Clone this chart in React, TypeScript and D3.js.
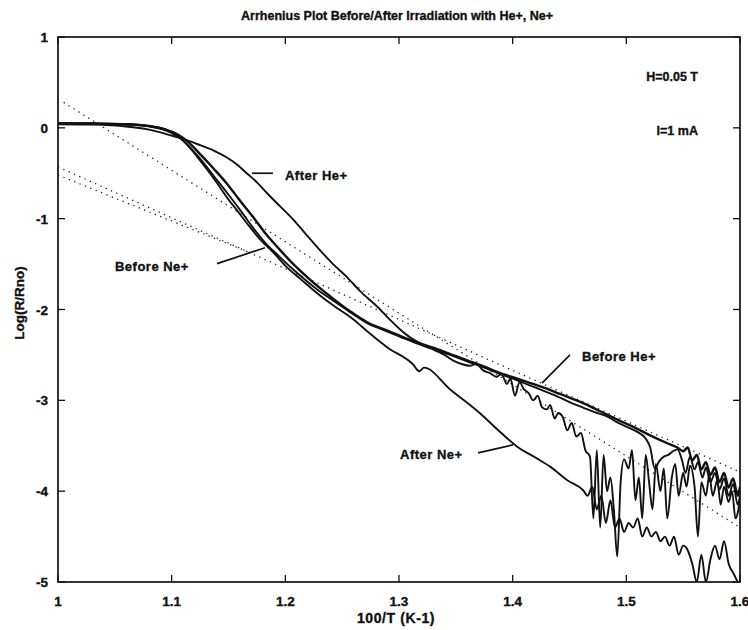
import React from 'react';
import * as d3 from 'd3';

// ---------- data ----------
const xTickValues = [1, 1.1, 1.2, 1.3, 1.4, 1.5, 1.6];
const xTickLabels = ['1', '1.1', '1.2', '1.3', '1.4', '1.5', '1.6'];
const yTickValues = [1, 0, -1, -2, -3, -4, -5];
const yTickLabels = ['1', '0', '-1', '-2', '-3', '-4', '-5'];

const titleText = 'Arrhenius Plot Before/After Irradiation with He+, Ne+';
const xAxisLabel = '100/T (K-1)';
const yAxisLabel = 'Log(R/Rno)';

const afterHe: [number, number][] = [
  [1.0, 0.04], [1.03, 0.035], [1.06, 0.015], [1.08, -0.02], [1.0985, -0.08], [1.112, -0.13],
  [1.125, -0.19], [1.137, -0.25], [1.149, -0.33], [1.158, -0.41], [1.166, -0.5], [1.175, -0.6],
  [1.184, -0.72], [1.195, -0.86], [1.207, -1.01], [1.218, -1.17], [1.23, -1.34], [1.242, -1.5],
  [1.254, -1.64], [1.266, -1.8], [1.281, -1.97], [1.291, -2.1], [1.301, -2.22], [1.31, -2.31],
  [1.32, -2.38], [1.33, -2.43], [1.345, -2.5], [1.36, -2.57], [1.375, -2.64], [1.389, -2.71],
  [1.404, -2.78], [1.418, -2.85], [1.43, -2.91], [1.4415, -2.97], [1.452, -3.03], [1.462, -3.08],
  [1.472, -3.13], [1.482, -3.17], [1.4916, -3.24], [1.5, -3.29], [1.51, -3.35], [1.517, -3.42],
  [1.521, -3.52], [1.525, -3.75], [1.529, -3.67], [1.533, -3.62], [1.537, -3.6], [1.541, -3.56],
  [1.545, -3.54], [1.549, -3.66], [1.552, -3.8], [1.556, -3.62], [1.56, -3.76], [1.563, -3.68],
  [1.567, -3.85], [1.57, -3.74], [1.574, -3.9], [1.578, -3.8], [1.582, -3.98], [1.586, -3.86],
  [1.59, -4.05], [1.594, -3.92], [1.598, -4.15], [1.6, -4.05],
];

const beforeHe: [number, number][] = [
  [1.0, 0.05], [1.03, 0.047], [1.06, 0.04], [1.08, 0.02], [1.095, -0.02], [1.105, -0.07],
  [1.115, -0.16], [1.125, -0.29], [1.137, -0.45], [1.149, -0.62], [1.16, -0.8], [1.1715, -0.98],
  [1.183, -1.17], [1.195, -1.34], [1.207, -1.5], [1.219, -1.64], [1.23, -1.76], [1.242, -1.88],
  [1.257, -2.02], [1.272, -2.14], [1.287, -2.22], [1.301, -2.29], [1.315, -2.36], [1.33, -2.42],
  [1.345, -2.49], [1.36, -2.56], [1.375, -2.63], [1.389, -2.7], [1.404, -2.76], [1.418, -2.82],
  [1.43, -2.87], [1.4415, -2.93], [1.452, -2.98], [1.462, -3.03], [1.477, -3.12], [1.4916, -3.21],
  [1.5057, -3.29], [1.52, -3.38], [1.5356, -3.47], [1.545, -3.52], [1.55, -3.56], [1.554, -3.52],
  [1.558, -3.66], [1.562, -3.6], [1.566, -3.76], [1.57, -3.68], [1.574, -3.82], [1.578, -3.74],
  [1.582, -3.9], [1.586, -3.8], [1.59, -3.96], [1.594, -3.86], [1.598, -4.05], [1.6, -3.95],
];

const beforeNe: [number, number][] = [
  [1.0, 0.05], [1.03, 0.047], [1.06, 0.04], [1.08, 0.018], [1.095, -0.03], [1.105, -0.09],
  [1.115, -0.2], [1.125, -0.34], [1.137, -0.53], [1.149, -0.72], [1.16, -0.9], [1.171, -1.09],
  [1.182, -1.26], [1.195, -1.42], [1.207, -1.56], [1.219, -1.69], [1.23, -1.8], [1.242, -1.9],
  [1.257, -2.03], [1.272, -2.15], [1.287, -2.23], [1.301, -2.3], [1.315, -2.37], [1.33, -2.44],
  [1.34, -2.5], [1.3474, -2.56], [1.355, -2.6], [1.362, -2.62], [1.368, -2.6], [1.374, -2.67],
  [1.38, -2.7], [1.386, -2.74], [1.39, -2.71], [1.395, -2.82], [1.398, -2.76], [1.402, -2.95],
  [1.406, -2.8], [1.41, -2.88], [1.414, -2.92], [1.418, -3.0], [1.422, -2.95], [1.426, -3.08],
  [1.43, -3.1], [1.433, -3.05], [1.437, -3.2], [1.44, -3.14], [1.444, -3.18], [1.448, -3.33],
  [1.452, -3.25], [1.456, -3.4], [1.46, -3.36], [1.464, -3.55], [1.468, -3.62], [1.471, -4.3],
  [1.474, -3.55], [1.477, -4.4], [1.48, -3.6], [1.483, -4.0], [1.486, -3.85], [1.489, -4.2],
  [1.492, -4.72], [1.495, -3.9], [1.498, -3.65], [1.502, -3.75], [1.505, -3.55], [1.508, -4.1],
  [1.511, -3.85], [1.514, -4.3], [1.517, -3.6], [1.52, -3.9], [1.523, -4.2], [1.526, -3.7],
  [1.53, -4.0], [1.533, -3.75], [1.536, -4.3], [1.54, -3.85], [1.543, -3.7], [1.546, -4.05],
  [1.55, -3.8], [1.553, -3.95], [1.556, -3.72], [1.56, -3.95], [1.563, -4.5], [1.566, -3.9],
  [1.57, -4.05], [1.573, -3.82], [1.576, -4.05], [1.58, -3.88], [1.583, -4.15], [1.586, -3.95],
  [1.59, -4.12], [1.593, -4.0], [1.596, -4.3], [1.6, -4.1],
];

const afterNe: [number, number][] = [
  [1.0, 0.05], [1.04, 0.045], [1.07, 0.03], [1.09, 0.0], [1.1, -0.05], [1.11, -0.14],
  [1.12, -0.28], [1.13, -0.44], [1.14, -0.61], [1.15, -0.79], [1.157, -0.9], [1.168, -1.08],
  [1.178, -1.23], [1.19, -1.38], [1.201, -1.53], [1.213, -1.66], [1.224, -1.78], [1.235, -1.89],
  [1.245, -1.98], [1.26, -2.11], [1.272, -2.24], [1.29, -2.42], [1.312, -2.6], [1.318, -2.68],
  [1.322, -2.64], [1.345, -2.88], [1.371, -3.14], [1.39, -3.36], [1.404, -3.51], [1.42, -3.63],
  [1.433, -3.73], [1.448, -3.88], [1.462, -3.99], [1.466, -4.05], [1.47, -3.95], [1.474, -4.2],
  [1.478, -4.05], [1.482, -4.35], [1.486, -4.1], [1.49, -4.4], [1.494, -4.3], [1.498, -4.45],
  [1.502, -4.35], [1.506, -4.4], [1.51, -4.3], [1.514, -4.5], [1.518, -4.4], [1.522, -4.5],
  [1.526, -4.45], [1.53, -4.55], [1.534, -4.5], [1.538, -4.6], [1.542, -4.5], [1.546, -4.7],
  [1.55, -4.6], [1.554, -4.65], [1.558, -4.8], [1.562, -5.0], [1.566, -4.7], [1.57, -5.0],
  [1.574, -4.75], [1.578, -4.6], [1.582, -4.75], [1.586, -4.55], [1.59, -4.8], [1.594, -4.9],
  [1.598, -5.0],
];

// dotted straight-line fits
const fitA: [number, number][] = [[1.005, 0.28], [1.6, -4.4]];
const fitB: [number, number][] = [[1.0, -0.43], [1.6, -3.79]];
const fitC: [number, number][] = [[1.0, -0.52], [1.17, -1.38]];

const curveNames = ['After He+', 'Before Ne+', 'Before He+', 'After Ne+'];
const curveLabelPos: [number, number][] = [[1.1997, -0.52], [1.0501, -1.53], [1.461, -2.52], [1.3009, -3.6]];
const leaderLines: [number, number][][] = [
  [[1.1707, -0.5], [1.1891, -0.5]],
  [[1.1399, -1.4955], [1.1821, -1.32]],
  [[1.4504, -2.5], [1.4258, -2.81]],
  [[1.3695, -3.578], [1.4003, -3.49]],
];
const conditionTexts = ['H=0.05 T', 'I=1 mA'];
const conditionPos: [number, number][] = [[1.563, 0.56], [1.563, -0.035]];

// ---------- layout ----------
const W = 748;
const H = 630;
const left = 58;
const right = 740;
const top = 37;
const bottom = 582;
const font = '"Liberation Sans", Arial, Helvetica, sans-serif';
const ink = '#111';

export default function App() {
  const x = d3.scaleLinear().domain([1, 1.6]).range([left, right]);
  const y = d3.scaleLinear().domain([-5, 1]).range([bottom, top]);
  const line = d3.line<[number, number]>().x(d => x(d[0])).y(d => y(d[1])).curve(d3.curveMonotoneX);
  const straight = d3.line<[number, number]>().x(d => x(d[0])).y(d => y(d[1]));
  const tickLen = 7;
  const solids = [afterHe, beforeHe, beforeNe, afterNe];
  const dots = [fitA, fitB, fitC];
  const textProps = { fontFamily: font, fontWeight: 'bold' as const, fill: ink, stroke: ink, strokeWidth: 0.35 };

  return (
    <svg width={W} height={H} style={{ position: 'absolute', left: 0, top: 0, background: '#fff' }}>
      <rect x={0} y={0} width={W} height={H} fill="#fff" />
      <defs>
        <clipPath id="plotclip">
          <rect x={left} y={top} width={right - left} height={bottom - top} />
        </clipPath>
      </defs>
      <text x={(left + right) / 2 - 2} y={20} textAnchor="middle" fontSize={12.5} {...textProps}>
        {titleText}
      </text>

      <g clipPath="url(#plotclip)">
        {dots.map((d, i) => (
          <path key={'d' + i} d={straight(d) || ''} fill="none" stroke="#222" strokeWidth={1.3} strokeDasharray="1.3 4.5" />
        ))}
        {solids.map((d, i) => (
          <path key={'s' + i} d={line(d) || ''} fill="none" stroke={ink} strokeWidth={i === 1 ? 2.4 : 1.9} strokeLinejoin="round" />
        ))}
      </g>

      {/* frame */}
      <rect x={left} y={top} width={right - left} height={bottom - top} fill="none" stroke={ink} strokeWidth={1.7} />
      {xTickValues.map((v, i) => (
        <g key={'xt' + i}>
          <line x1={x(v)} x2={x(v)} y1={bottom} y2={bottom - tickLen} stroke={ink} strokeWidth={1.3} />
          <line x1={x(v)} x2={x(v)} y1={top} y2={top + tickLen} stroke={ink} strokeWidth={1.3} />
          <text x={x(v)} y={606} textAnchor="middle" fontSize={13.5} {...textProps}>
            {xTickLabels[i]}
          </text>
        </g>
      ))}
      {yTickValues.map((v, i) => (
        <g key={'yt' + i}>
          <line x1={left} x2={left + tickLen} y1={y(v)} y2={y(v)} stroke={ink} strokeWidth={1.3} />
          <line x1={right} x2={right - tickLen} y1={y(v)} y2={y(v)} stroke={ink} strokeWidth={1.3} />
          <text x={48} y={y(v) + 5} textAnchor="end" fontSize={13.5} {...textProps}>
            {yTickLabels[i]}
          </text>
        </g>
      ))}
      <text x={(left + right) / 2 - 3} y={623} textAnchor="middle" fontSize={14} letterSpacing={0.6} {...textProps}>
        {xAxisLabel}
      </text>
      <text transform={`translate(24, 303) rotate(-90)`} textAnchor="middle" fontSize={13.5} {...textProps}>
        {yAxisLabel}
      </text>

      {curveNames.map((n, i) => (
        <g key={'lab' + i}>
          <line x1={x(leaderLines[i][0][0])} y1={y(leaderLines[i][0][1])} x2={x(leaderLines[i][1][0])} y2={y(leaderLines[i][1][1])} stroke={ink} strokeWidth={1.7} />
          <text x={x(curveLabelPos[i][0])} y={y(curveLabelPos[i][1])} dominantBaseline="central" fontSize={13} letterSpacing={0.5} {...textProps}>
            {n}
          </text>
        </g>
      ))}
      {conditionTexts.map((t, i) => (
        <text key={'c' + i} x={x(conditionPos[i][0])} y={y(conditionPos[i][1])} dominantBaseline="central" textAnchor="end" fontSize={12.5} {...textProps}>
          {t}
        </text>
      ))}
    </svg>
  );
}
